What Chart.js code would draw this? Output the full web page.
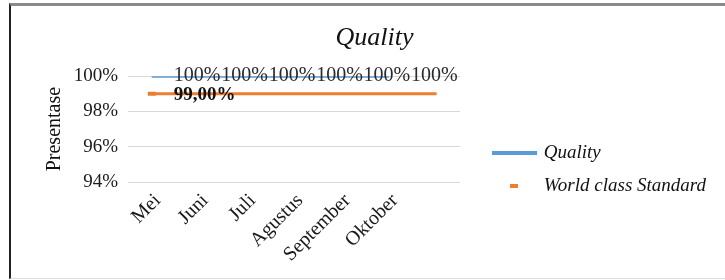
<!DOCTYPE html>
<html><head><meta charset="utf-8">
<script src="https://cdn.jsdelivr.net/npm/chart.js@4.4.0/dist/chart.umd.min.js"></script>
<style>
html,body{margin:0;padding:0;background:#fff;width:725px;height:280px;overflow:hidden}
#frame{position:absolute;left:9px;top:3px;width:716px;height:276px;border-left:2px solid #222;border-top:3px solid #8a8a8a;border-bottom:1px solid #ddd;box-sizing:border-box}
#wrap{position:absolute;left:11px;top:6px;width:714px;height:272px}
</style></head><body>
<div id="frame"></div>
<div id="wrap"><canvas id="c"></canvas></div>
<script>
const categories = ['Mei','Juni','Juli','Agustus','September','Oktober',''];
const qualityValues = [100,100,100,100,100,100];
const standardValues = [99,99,99,99,99,99,99];
const yTicks = [94,96,98,100];
const qualityLabels = ['100%','100%','100%','100%','100%','100%'];
const standardLabels = ['99,00%'];
const seriesNames = ['Quality','World class Standard'];

const BLUE = '#5B9BD5', ORANGE = '#ED7D31';
const SERIF = '"Liberation Serif", "Times New Roman", serif';

function swatch(w, h, color) {
  const c = document.createElement('canvas');
  c.width = w; c.height = h;
  const g = c.getContext('2d');
  g.fillStyle = color; g.fillRect(0, 0, w, h);
  return c;
}

const dataLabels = {
  id: 'dataLabels',
  afterDatasetsDraw(chart) {
    const ctx = chart.ctx, xs = chart.scales.x, ys = chart.scales.y;
    ctx.save();
    ctx.textAlign = 'left';
    ctx.textBaseline = 'middle';
    ctx.fillStyle = '#2a2a2a';
    ctx.font = '20px ' + SERIF;
    qualityLabels.forEach((t, i) => {
      ctx.fillText(t, xs.getPixelForValue(i) + 22, ys.getPixelForValue(qualityValues[i]));
    });
    ctx.fillStyle = '#111';
    ctx.font = 'bold 19px ' + SERIF;
    standardLabels.forEach((t, i) => {
      ctx.fillText(t, xs.getPixelForValue(i) + 22, ys.getPixelForValue(standardValues[i]) + 1);
    });
    ctx.restore();
  }
};

new Chart(document.getElementById('c'), {
  type: 'line',
  data: {
    labels: categories,
    datasets: [
      { label: seriesNames[0], data: qualityValues, borderColor: BLUE, backgroundColor: BLUE,
        borderWidth: 3, pointRadius: 0, tension: 0, yAxisID: 'y' },
      { label: seriesNames[1], data: standardValues, borderColor: ORANGE, backgroundColor: ORANGE,
        borderWidth: 3, tension: 0, yAxisID: 'y',
        pointStyle: 'line', pointBorderColor: ORANGE, pointBorderWidth: 4,
        pointRadius: c => c.dataIndex === 0 ? 4 : 0 }
    ]
  },
  options: {
    animation: false,
    responsive: true,
    maintainAspectRatio: false,
    layout: { padding: { left: 22, right: 9, top: 0, bottom: 0 } },
    scales: {
      x: {
        offset: true,
        grid: { display: false, drawTicks: false },
        border: { display: false },
        afterFit: s => { s.height = 96; },
        ticks: { minRotation: 45, maxRotation: 45, autoSkip: false, padding: 7, labelOffset: 6,
                 color: '#1a1a1a', font: { family: SERIF, size: 20 } }
      },
      y: {
        min: 94, max: 100,
        afterFit: s => { s.width = 95; },
        afterBuildTicks: s => { s.ticks = yTicks.map(v => ({ value: v })); },
        grid: { color: '#d9d9d9', lineWidth: 1, drawTicks: false },
        border: { display: false },
        ticks: { padding: 10, color: '#1a1a1a', font: { family: SERIF, size: 19 },
                 callback: v => v + '%' },
        title: { display: true, text: 'Presentase', color: '#111',
                 font: { family: SERIF, size: 20 }, padding: { top: 10, bottom: 0 } }
      },
      yGap: {
        position: 'right',
        display: true,
        afterFit: s => { s.width = 20; },
        grid: { display: false, drawTicks: false },
        border: { display: false },
        ticks: { display: false }
      }
    },
    plugins: {
      title: { display: true, text: 'Quality', color: '#111',
               font: { family: SERIF, size: 26, style: 'italic', weight: 'normal' },
               padding: { top: 17, bottom: 22 } },
      legend: {
        position: 'right',
        maxWidth: 400,
        title: { display: true, text: '', font: { size: 1 }, padding: { top: 0, bottom: 53 } },
        labels: {
          usePointStyle: true,
          pointStyleWidth: 40,
          padding: 14,
          color: '#111',
          font: { family: SERIF, size: 19, style: 'italic' },
          generateLabels: () => [
            { text: seriesNames[0], pointStyle: swatch(45, 4, BLUE), fillStyle: BLUE,
              strokeStyle: 'transparent', lineWidth: 0, hidden: false, datasetIndex: 0, fontColor: '#111' },
            { text: seriesNames[1], pointStyle: swatch(8, 4, ORANGE), fillStyle: ORANGE,
              strokeStyle: 'transparent', lineWidth: 0, hidden: false, datasetIndex: 1, fontColor: '#111' }
          ]
        }
      },
      tooltip: { enabled: false }
    }
  },
  plugins: [dataLabels]
});
</script>
</body></html>
